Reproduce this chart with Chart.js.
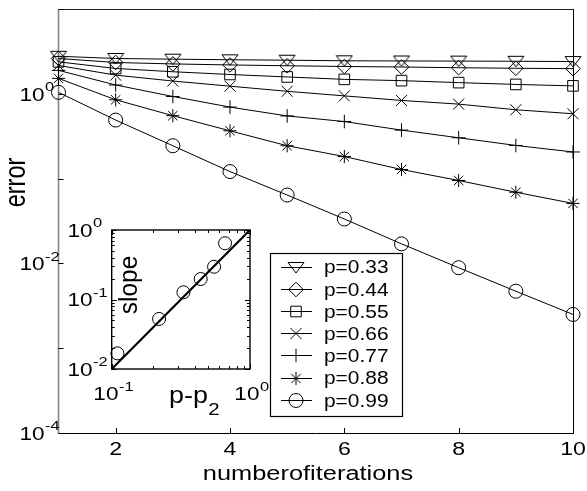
<!DOCTYPE html>
<html>
<head>
<meta charset="utf-8">
<script src="https://cdn.jsdelivr.net/npm/chart.js@4.4.1/dist/chart.umd.min.js"></script>
<style>
  html, body { margin: 0; padding: 0; background: #fff; }
  #wrap { position: relative; width: 587px; height: 491px; }
  #main { position: absolute; left: 0; top: 0; }
  #inset { position: absolute; left: 60px; top: 212px; }
</style>
</head>
<body>
<div id="wrap">
  <canvas id="main" width="587" height="491" style="width:587px;height:491px"></canvas>
  <canvas id="inset" width="210" height="210" style="width:210px;height:210px"></canvas>
</div>
<script>
// ---------------- data ----------------
const iterations = [1, 2, 3, 4, 5, 6, 7, 8, 9, 10];
const seriesLabels = ['p=0.33', 'p=0.44', 'p=0.55', 'p=0.66', 'p=0.77', 'p=0.88', 'p=0.99'];
const err033 = [2.77, 2.61, 2.56, 2.52, 2.49, 2.45, 2.44, 2.43, 2.42, 2.40];
const err044 = [2.61, 2.34, 2.25, 2.19, 2.14, 2.10, 2.07, 2.03, 2.00, 1.98];
const err055 = [2.38, 1.99, 1.82, 1.69, 1.58, 1.48, 1.43, 1.355, 1.29, 1.24];
const err066 = [2.16, 1.66, 1.415, 1.23, 1.07, 0.945, 0.835, 0.756, 0.648, 0.582];
const err077 = [1.89, 1.27, 0.93, 0.697, 0.548, 0.471, 0.373, 0.303, 0.246, 0.206];
const err088 = [1.52, 0.85, 0.552, 0.366, 0.244, 0.182, 0.128, 0.095, 0.069, 0.051];
const err099 = [1.04, 0.49, 0.244, 0.121, 0.064, 0.0334, 0.017, 0.0089, 0.0047, 0.0025];
const xTicks = [2, 4, 6, 8, 10];
const yTickExps = [-4, -3, -2, -1, 0, 1];
const yLabelExps = [-4, -2, 0];

// inset data
const pDiff = [0.11, 0.22, 0.33, 0.44, 0.55, 0.66];
const slopeVals = [0.0168, 0.0525, 0.127, 0.197, 0.296, 0.644];
const fitX = [0.1, 1];
const fitY = [0.01, 1];
const insetXExps = [-1, 0];
const insetYExps = [-2, -1, 0];

// ---------------- helpers ----------------
const FONT = '"Liberation Sans", Arial, Helvetica, sans-serif';
function setFont(ctx, size) { ctx.font = size + 'px ' + FONT; }
function textW(ctx, s, size, sx) { setFont(ctx, size); return ctx.measureText(s).width * sx; }
function drawText(ctx, s, x, y, size, o) {
  o = o || {};
  ctx.save();
  ctx.translate(x, y);
  ctx.scale(o.sx || 1.3, 1);
  if (o.rot) ctx.rotate(o.rot);
  setFont(ctx, size);
  ctx.textAlign = o.align || 'left';
  ctx.textBaseline = 'alphabetic';
  ctx.fillStyle = '#000';
  ctx.fillText(s, 0, 0);
  ctx.restore();
}
function supStr(e) { return (e < 0 ? '-' : '') + Math.abs(e); }
// draws "10" with superscript; (x, base) = left origin of "10" and its baseline
function drawPow(ctx, e, x, base, size, supSize, sx) {
  const w10 = textW(ctx, '10', size, sx);
  drawText(ctx, '10', x, base, size, { sx: sx });
  drawText(ctx, supStr(e), x + w10 + 0.5, base - 9.5, supSize, { sx: sx });
  return w10 + textW(ctx, supStr(e), supSize, sx);
}
function line(ctx, x1, y1, x2, y2) { ctx.beginPath(); ctx.moveTo(x1, y1); ctx.lineTo(x2, y2); ctx.stroke(); }

function triDown() {
  const c = document.createElement('canvas');
  c.width = 18; c.height = 13;
  const g = c.getContext('2d');
  g.strokeStyle = '#000'; g.lineWidth = 1;
  g.beginPath(); g.moveTo(1, 1.5); g.lineTo(17, 1.5); g.lineTo(9, 12); g.closePath(); g.stroke();
  return c;
}
const markerStyles = [
  { style: triDown(), r: 8, rot: 0 },
  { style: 'rectRot', r: 7.3, rot: 0 },
  { style: 'rect', r: 7.5, rot: 0 },
  { style: 'crossRot', r: 7.8, rot: 0 },
  { style: 'cross', r: 6.8, rot: 0 },
  { style: 'star', r: 6.6, rot: 0 },
  { style: 'circle', r: 7, rot: 0 }
];
const allSeries = [err033, err044, err055, err066, err077, err088, err099];

function makeDataset(i) {
  const m = markerStyles[i];
  return {
    label: seriesLabels[i],
    data: iterations.map((x, k) => ({ x: x, y: allSeries[i][k] })),
    borderColor: '#000', borderWidth: 1, tension: 0, fill: false,
    pointStyle: m.style, pointRadius: m.r, pointRotation: m.rot,
    pointBorderColor: '#000', pointBackgroundColor: 'rgba(0,0,0,0)', pointBorderWidth: 1,
    pointHoverRadius: m.r, clip: false
  };
}

// ---------------- main chart ----------------
const mainDeco = {
  id: 'mainDeco',
  beforeDatasetsDraw(chart) {
    const ctx = chart.ctx;
    const a = chart.chartArea;
    const xs = chart.scales.x, ys = chart.scales.y;
    ctx.save();
    // frame
    ctx.lineWidth = 1;
    ctx.strokeStyle = '#222';
    line(ctx, a.left, a.top + 0.5, a.right, a.top + 0.5);
    ctx.strokeStyle = '#000';
    line(ctx, a.right + 0.5, a.top, a.right + 0.5, a.bottom);
    line(ctx, a.left, a.bottom + 0.5, a.right + 1, a.bottom + 0.5);
    ctx.strokeStyle = '#858585'; ctx.lineWidth = 1.6;
    line(ctx, a.left, a.top, a.left, a.bottom + 1);
    // y ticks (inward)
    ctx.strokeStyle = '#000'; ctx.lineWidth = 1;
    yTickExps.forEach(e => {
      const py = Math.round(ys.getPixelForValue(Math.pow(10, e))) + 0.5;
      line(ctx, a.left, py, a.left + 5, py);
    });
    xTicks.forEach(v => {
      const px = Math.round(xs.getPixelForValue(v)) + 0.5;
      line(ctx, px, a.bottom, px, a.bottom - 5);
    });
    // y tick labels
    yLabelExps.forEach(e => {
      const py = ys.getPixelForValue(Math.pow(10, e));
      const w10 = textW(ctx, '10', 18.5, 1.22);
      drawPow(ctx, e, 44.5 - w10, py + 6.7, 18.5, 13.5, 1.22);
    });
    // x tick labels
    xTicks.forEach(v => {
      drawText(ctx, String(v), xs.getPixelForValue(v), 455, 18.5, { align: 'center', sx: 1.25 });
    });
    // axis titles
    drawText(ctx, 'numberofiterations', 308, 480, 20, { align: 'center', sx: 1.27 });
    drawText(ctx, 'error', 25, 182.5, 23.5, { align: 'center', sx: 1.25, rot: -Math.PI / 2 });
    ctx.restore();
  },
  afterDatasetsDraw(chart) {
    const ctx = chart.ctx;
    ctx.save();
    // legend box
    const bx = 270, by = 253, bw = 132, bh = 163;
    ctx.fillStyle = '#fff';
    ctx.fillRect(bx, by, bw, bh);
    ctx.strokeStyle = '#000'; ctx.lineWidth = 1.2;
    ctx.strokeRect(bx + 0.5, by + 0.5, bw, bh);
    chart.data.datasets.forEach((d, i) => {
      const cy = 266.5 + i * 22.2;
      ctx.strokeStyle = '#000'; ctx.lineWidth = 1;
      line(ctx, 281, Math.round(cy) + 0.5, 312, Math.round(cy) + 0.5);
      ctx.fillStyle = 'rgba(0,0,0,0)';
      Chart.helpers.drawPoint(ctx, { pointStyle: d.pointStyle, rotation: d.pointRotation, radius: d.pointRadius, borderWidth: 1 }, 296, Math.round(cy) + 0.5);
      drawText(ctx, d.label, 324, cy + 6.8, 19, { sx: 1.1 });
    });
    ctx.restore();
  }
};

new Chart(document.getElementById('main'), {
  type: 'line',
  data: { datasets: seriesLabels.map((_, i) => makeDataset(i)) },
  options: {
    responsive: false, animation: false, events: [],
    devicePixelRatio: 1,
    layout: { padding: { left: 58.5, right: 14, top: 5, bottom: 58 } },
    plugins: { legend: { display: false }, tooltip: { enabled: false } },
    scales: {
      x: { type: 'linear', min: 1, max: 10, display: false },
      y: { type: 'logarithmic', min: 1e-4, max: 10, display: false }
    }
  },
  plugins: [mainDeco]
});

// ---------------- inset chart ----------------
const insetDeco = {
  id: 'insetDeco',
  beforeDatasetsDraw(chart) {
    const ctx = chart.ctx;
    const a = chart.chartArea;
    const xs = chart.scales.x, ys = chart.scales.y;
    ctx.save();
    ctx.fillStyle = '#fff';
    ctx.fillRect(a.left, a.top, a.right - a.left, a.bottom - a.top);
    ctx.strokeStyle = '#000'; ctx.lineWidth = 1;
    // minor + major ticks on all sides
    for (let e = -1; e < 0; e++) {
      for (let m = 1; m <= 10; m++) {
        const v = m * Math.pow(10, e);
        const px = Math.round(xs.getPixelForValue(v)) + 0.5;
        const len = (m === 1 || m === 10) ? 5 : 3;
        line(ctx, px, a.bottom, px, a.bottom - len);
        line(ctx, px, a.top, px, a.top + len);
      }
    }
    for (let e = -2; e < 0; e++) {
      for (let m = 1; m <= 10; m++) {
        const v = m * Math.pow(10, e);
        const py = Math.round(ys.getPixelForValue(v)) + 0.5;
        const len = (m === 1 || m === 10) ? 5 : 3;
        line(ctx, a.left, py, a.left + len, py);
        line(ctx, a.right, py, a.right - len, py);
      }
    }
    ctx.lineWidth = 1.4;
    ctx.strokeRect(a.left, a.top, a.right - a.left, a.bottom - a.top);
    // labels (canvas offset: left 60, top 212)
    insetYExps.forEach(e => {
      const py = ys.getPixelForValue(Math.pow(10, e));
      const w10 = textW(ctx, '10', 18.5, 1.22);
      drawPow(ctx, e, (92.5 - 60) - w10, py + 6.7, 18.5, 13.5, 1.22);
    });
    insetXExps.forEach(e => {
      const px = xs.getPixelForValue(Math.pow(10, e));
      const tot = textW(ctx, '10', 18.5, 1.22) + textW(ctx, supStr(e), 13.5, 1.22);
      drawPow(ctx, e, px + 1.5 - tot / 2, 400 - 212, 18.5, 13.5, 1.22);
    });
    const wpp = textW(ctx, 'p-p', 24, 1.12);
    drawText(ctx, 'p-p', 169 - 60, 403 - 212, 24, { sx: 1.12 });
    drawText(ctx, '2', 169 - 60 + wpp + 0.5, 415 - 212, 17, { sx: 1.2 });
    drawText(ctx, 'slope', 136.5 - 60, 285 - 212, 24.5, { sx: 1.05, align: 'center', rot: -Math.PI / 2 });
    ctx.restore();
  }
};

new Chart(document.getElementById('inset'), {
  type: 'line',
  data: {
    datasets: [
      {
        data: pDiff.map((x, i) => ({ x: x, y: slopeVals[i] })),
        showLine: false, pointStyle: 'circle', pointRadius: 6.5,
        pointBorderColor: '#000', pointBackgroundColor: 'rgba(0,0,0,0)', pointBorderWidth: 1,
        clip: false
      },
      {
        data: fitX.map((x, i) => ({ x: x, y: fitY[i] })),
        borderColor: '#000', borderWidth: 2.2, pointRadius: 0, tension: 0, fill: false
      }
    ]
  },
  options: {
    responsive: false, animation: false, events: [],
    devicePixelRatio: 1,
    layout: { padding: { left: 51.7, right: 20, top: 18, bottom: 53 } },
    plugins: { legend: { display: false }, tooltip: { enabled: false } },
    scales: {
      x: { type: 'logarithmic', min: 0.1, max: 1, display: false },
      y: { type: 'logarithmic', min: 0.01, max: 1, display: false }
    }
  },
  plugins: [insetDeco]
});
</script>
</body>
</html>
